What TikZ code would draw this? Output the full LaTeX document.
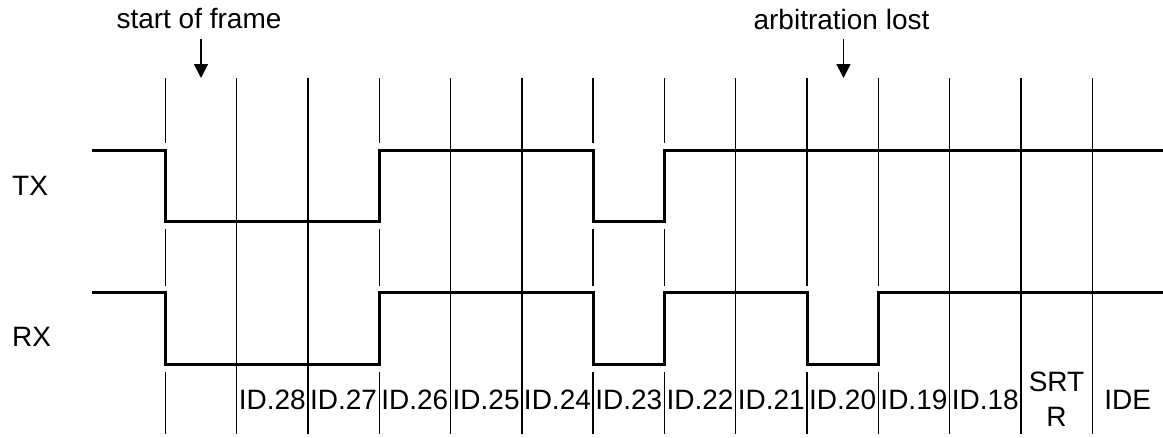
\documentclass[tikz,border=0pt]{standalone}
\usepackage{fontspec}
\setmainfont{Liberation Sans}
\usetikzlibrary{arrows.meta}
\begin{document}
\begin{tikzpicture}[x=1pt,y=-1pt,
  gridline/.style={line width=1.4pt, black},
  sig/.style={line width=3pt, line join=miter, line cap=rect},
  lbl/.style={font=\fontsize{28}{35}\selectfont, inner sep=0pt, anchor=base},
  ptr/.style={line width=1.8pt, -{Triangle[width=14pt,length=14pt]}}]
\useasboundingbox (0,0) rectangle (1163,437);
% column x positions
\def\xa{165.3}\def\xb{236.6}\def\xc{307.9}\def\xd{379.2}\def\xe{450.5}
\def\xf{521.8}\def\xg{593.1}\def\xh{664.4}\def\xi{735.7}\def\xj{807.0}
\def\xk{878.3}\def\xl{949.6}\def\xm{1020.9}\def\xn{1092.2}
% full grid lines
\foreach \x in {\xb,\xc,\xe,\xf,\xi,\xl,\xm,\xn}
  \draw[gridline] (\x,78) -- (\x,434);
% lines broken at TX and RX transitions
\foreach \x in {\xa,\xd,\xg,\xh}{
  \draw[gridline] (\x,78) -- (\x,143);
  \draw[gridline] (\x,229) -- (\x,286);
  \draw[gridline] (\x,372) -- (\x,434);
}
% lines broken at RX transitions only
\foreach \x in {\xj,\xk}{
  \draw[gridline] (\x,78) -- (\x,286);
  \draw[gridline] (\x,372) -- (\x,434);
}
% TX signal
\draw[sig] (93,150) -- (\xa,150) -- (\xa,221) -- (\xd,221) -- (\xd,150)
  -- (\xg,150) -- (\xg,221) -- (\xh,221) -- (\xh,150) -- (1163,150);
% RX signal
\draw[sig] (93,292.5) -- (\xa,292.5) -- (\xa,364) -- (\xd,364) -- (\xd,292.5)
  -- (\xg,292.5) -- (\xg,364) -- (\xh,364) -- (\xh,292.5) -- (\xj,292.5)
  -- (\xj,364) -- (\xk,364) -- (\xk,292.5) -- (1163,292.5);
% signal names
\node[lbl, anchor=base west] (tx) at (12,195) {TX};
\node[lbl, anchor=base west] (rx) at (12,346) {RX};
% annotations
\node[lbl] (sof) at (199,28) {start of frame};
\node[lbl] (arb) at (841.5,29) {arbitration lost};
\coordinate (sofA) at (201,39);
\coordinate (sofB) at (201,78);
\coordinate (arbA) at (843.5,39);
\coordinate (arbB) at (843.5,78);
\draw[ptr] (sofA) -- (sofB);
\draw[ptr] (arbA) -- (arbB);
% bit labels
\node[lbl] (id28) at ({(\xb+\xc)/2},409) {ID.28};
\node[lbl] (id27) at ({(\xc+\xd)/2},409) {ID.27};
\node[lbl] (id26) at ({(\xd+\xe)/2},409) {ID.26};
\node[lbl] (id25) at ({(\xe+\xf)/2},409) {ID.25};
\node[lbl] (id24) at ({(\xf+\xg)/2},409) {ID.24};
\node[lbl] (id23) at ({(\xg+\xh)/2},409) {ID.23};
\node[lbl] (id22) at ({(\xh+\xi)/2},409) {ID.22};
\node[lbl] (id21) at ({(\xi+\xj)/2},409) {ID.21};
\node[lbl] (id20) at ({(\xj+\xk)/2},409) {ID.20};
\node[lbl] (id19) at ({(\xk+\xl)/2},409) {ID.19};
\node[lbl] (id18) at ({(\xl+\xm)/2},409) {ID.18};
\node[lbl, align=center, anchor=north] (srtr) at ({(\xm+\xn)/2},372) {SRT\\R};
\node[lbl] (ide) at ({(\xn+1163)/2},409) {IDE};
\end{tikzpicture}
\end{document}
